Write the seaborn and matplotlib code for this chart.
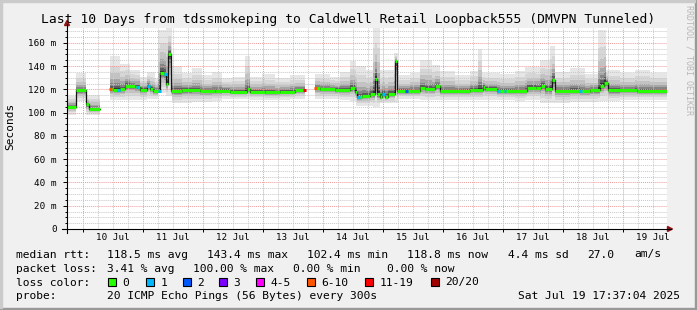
import numpy as np
import matplotlib
matplotlib.use("Agg")
import matplotlib.pyplot as plt
from matplotlib.patches import Rectangle, Polygon
from matplotlib.lines import Line2D
import seaborn as sns

W, H = 697, 310
MONO = "DejaVu Sans Mono"
plt.rcParams["font.family"] = [MONO, "DejaVu Sans"]

# ---------------- data (hours since Wed Jul 9 17:37:04 2025) ----------------
SPAN_H = 240.0
MIDNIGHT0 = 6.382          # Jul 10 00:00
day_labels = ["10 Jul", "11 Jul", "12 Jul", "13 Jul", "14 Jul",
              "15 Jul", "16 Jul", "17 Jul", "18 Jul", "19 Jul"]

med_t = [0.0, 3.6, 7.6, 8.8, 13.2, 17.2, 18.4, 21.2, 23.2, 27.2, 29.2, 32.0, 33.2,
         34.4, 37.2, 38.8, 39.6, 40.4, 41.6, 46.0, 53.2, 59.2, 65.2, 72.0, 73.2,
         79.2, 85.2, 91.2, 95.2, 99.2, 101.2, 107.2, 113.2, 115.2, 116.0, 118.0,
         121.2, 123.2, 124.0, 125.2, 126.0, 127.2, 128.4, 131.2, 132.0, 141.2,
         143.2, 147.2, 149.2, 161.2, 166.4, 167.2, 172.0, 184.0, 187.6, 189.6,
         191.2, 194.0, 195.2, 205.2, 209.2, 213.2, 214.8, 216.4, 228.0]
med_v = [105, 119, 107, 103, np.nan, 120, 119.5, 120, 123, 122, 119.5, 123, 120,
         118.5, 134, 133, 125, 150, 118.5, 119.4, 118.5, 118.8, 118, 120, 118,
         117.5, 118, 119, np.nan, 121, 120, 119.5, 121, 118, 113, 114,
         116, 129, 116, 113, 116, 113.5, 116, 144, 118.5, 121,
         120, 123, 118.5, 119.5, 122, 120.5, 118.5, 121.4, 121, 123,
         120, 128, 118.8, 118.5, 119, 123, 125.7, 119, 118.6]

smoke_t = [0.0, 3.6, 7.6, 13.2, 17.2, 21.2, 25.2, 29.2, 32.0, 35.2, 36.4, 39.6, 42.0,
           46.0, 50.0, 54.0, 58.0, 62.0, 66.0, 71.2, 73.2, 78.0, 83.2, 89.2, 95.2,
           99.2, 105.2, 109.2, 113.2, 115.6, 119.6, 122.4, 125.2, 130.8, 132.4,
           137.2, 141.2, 146.0, 149.2, 155.2, 161.2, 164.4, 166.0, 173.2, 179.2,
           183.2, 189.2, 193.2, 195.2, 201.2, 207.2, 212.4, 215.6, 221.2, 227.2, 233.2]
smoke_hi = [114, 134, 115, np.nan, 149, 142, 137, 131, 135, 130, 171, 173, 140,
            134, 138, 132, 135, 130, 131, 149, 131, 133, 130, 132, np.nan,
            133, 131, 135, 144, 140, 137, 173, 137, 151, 132,
            134, 145, 141, 136, 132, 136, 155, 134, 133, 136,
            139, 145, 157, 135, 138, 133, 171, 137, 134, 137, 134]
smoke_lo = [98, 110, 98, np.nan, 111, 111, 111, 111, 112, 112, 117, 114, 108,
            108, 109, 109, 110, 112, 112, 112, 111, 111, 111, 112, np.nan,
            112, 112, 111, 110, 106, 106, 105, 108, 108, 112,
            112, 111, 111, 111, 111, 111, 111, 111, 111, 110,
            111, 108, 108, 108, 109, 109, 110, 110, 111, 111, 111]

loss_t = [17.2, 20.4, 28.0, 32.4, 36.8, 39.2, 95.0, 99.2, 116.4, 126.4, 135.6,
          172.4, 175.2, 205.2]
loss_n = [7, 1, 1, 1, 1, 1, 12, 7, 1, 1, 2, 1, 1, 1]

loss_bins = ["0", "1", "2", "3", "4-5", "6-10", "11-19", "20/20"]
loss_colors = ["#26ff00", "#00b8ff", "#0059ff", "#7e00ff", "#ff00ff",
               "#ff5500", "#ff0000", "#a10000"]

title = "Last 10 Days from tdssmokeping to Caldwell Retail Loopback555 (DMVPN Tunneled)"
rtt_line = ["median rtt:", "118.5 ms avg", "143.4 ms max", "102.4 ms min",
            "118.8 ms now", "4.4 ms sd", "27.0", "am/s"]
loss_line = ["packet loss:", "3.41 % avg", "100.00 % max", "0.00 % min", "0.00 % now"]
probe_text = "20 ICMP Echo Pings (56 Bytes) every 300s"
stamp_text = "Sat Jul 19 17:37:04 2025"

# ---------------- helpers ----------------
med_t = np.array(med_t); med_v = np.array(med_v, float)
smoke_t = np.array(smoke_t); smoke_hi = np.array(smoke_hi, float); smoke_lo = np.array(smoke_lo, float)
assert len(med_t) == len(med_v) and len(smoke_t) == len(smoke_hi) == len(smoke_lo)


def step_at(t_arr, v_arr, x):
    idx = np.searchsorted(t_arr, x, side="right") - 1
    return v_arr[idx]


def runs(mask):
    out, i, n = [], 0, len(mask)
    while i < n:
        if mask[i]:
            j = i
            while j + 1 < n and mask[j + 1]:
                j += 1
            out.append((i, j))
            i = j + 1
        else:
            i += 1
    return out


def loss_color(n):
    if n == 0: return loss_colors[0]
    if n <= 3: return loss_colors[n]
    if n <= 5: return loss_colors[4]
    if n <= 10: return loss_colors[5]
    if n <= 19: return loss_colors[6]
    return loss_colors[7]


def fx(x): return x / W
def fy(y): return 1 - y / H


# ---------------- figure ----------------
fig = plt.figure(figsize=(W / 100, H / 100), dpi=100)
fig.patch.set_facecolor("#F0F0F0")
# 3D-ish border
fig.patches.append(Rectangle((0, 0), 1, 2 / H, transform=fig.transFigure, color="#999999", zorder=0))
fig.patches.append(Rectangle((1 - 2 / W, 0), 2 / W, 1, transform=fig.transFigure, color="#999999", zorder=0))
fig.patches.append(Rectangle((0, 1 - 2 / H), 1 - 2 / W, 2 / H, transform=fig.transFigure, color="#CBCBCB", zorder=0))
fig.patches.append(Rectangle((0, 2 / H), 2 / W, 1, transform=fig.transFigure, color="#CBCBCB", zorder=0))

ax = fig.add_axes([fx(67), fy(229), 600 / W, (229 - 28) / H])
ax.set_facecolor("white")
ax.set_xlim(0, SPAN_H)
ax.set_ylim(0, 172.7)
for s in ax.spines.values():
    s.set_visible(False)

# smoke
grid = np.unique(np.concatenate([med_t, smoke_t]))
stops = np.append(grid[1:], SPAN_H)
mg = step_at(med_t, med_v, grid)
hg = step_at(smoke_t, smoke_hi, grid)
lg = step_at(smoke_t, smoke_lo, grid)
valid = ~np.isnan(mg) & ~np.isnan(hg)
layers = [(1.0, "#e6e6e6"), (0.7, "#d6d6d6"), (0.48, "#c2c2c2"), (0.32, "#a6a6a6"),
          (0.2, "#858585"), (0.11, "#5c5c5c"), (0.05, "#333333")]
for i, j in runs(valid):
    xs = np.append(grid[i:j + 1], stops[j])
    m = np.append(mg[i:j + 1], mg[j]); hi = np.append(hg[i:j + 1], hg[j]); lo = np.append(lg[i:j + 1], lg[j])
    for f, c in layers:
        ax.fill_between(xs, m - f * (m - lo), m + f * (hi - m), step="post",
                        color=c, lw=0, zorder=1)

# median: black connecting step line (seaborn) + green loss-colored segments
mstops = np.append(med_t[1:], SPAN_H)
mvalid = ~np.isnan(med_v)
for i, j in runs(mvalid):
    xs = np.append(med_t[i:j + 1], mstops[j])
    ys = np.append(med_v[i:j + 1], med_v[j])
    sns.lineplot(x=xs, y=ys, drawstyle="steps-post", color="#151515", linewidth=0.9,
                 ax=ax, estimator=None, sort=False, legend=False, zorder=3)
    ax.hlines(med_v[i:j + 1], med_t[i:j + 1], mstops[i:j + 1], color=loss_colors[0],
              lw=2.2, zorder=4)
for t, n in zip(loss_t, loss_n):
    v = step_at(med_t, med_v, t)
    ax.hlines(v, t - 0.6, t + 0.6, color=loss_color(n), lw=2.2, zorder=5)

# grid & ticks
majx = MIDNIGHT0 + 24 * np.arange(10)
minx = [m for m in np.arange(MIDNIGHT0 - 6, SPAN_H, 6) if np.min(np.abs(majx - m)) > 1 and m > 0.5]
ax.set_xticks(majx)
ax.set_xticklabels([])
ax.set_xticks(minx, minor=True)
ax.set_yticks(np.arange(0, 161, 20))
ax.set_yticklabels(["0"] + [f"{v} m" for v in range(20, 161, 20)], fontsize=6.7, family=MONO)
ax.set_yticks([v for v in np.arange(5, 172, 5) if v % 20], minor=True)
ax.set_axisbelow(False)
ax.grid(which="minor", color="#c8c8c8", ls=(0, (1, 1)), lw=0.7)
ax.grid(which="major", color="#f09a9a", ls=(0, (1, 1)), lw=0.7)
ax.tick_params(axis="x", which="major", length=2.5, width=0.7, color="black", direction="out")
ax.tick_params(axis="x", which="minor", length=0)
ax.tick_params(axis="y", which="major", length=3, width=0.7, color="black", direction="out", pad=4.5)
ax.tick_params(axis="y", which="minor", length=1.5, width=0.7, color="black", direction="out")

for k, lab in enumerate(day_labels):
    ax.text(MIDNIGHT0 + 12 + 24 * k, -(237.5 - 229) / 201, lab, transform=ax.get_xaxis_transform(),
            ha="center", va="center", fontsize=6.7, family=MONO)

# axis lines and arrows
fig.add_artist(Line2D([fx(62), fx(671)], [fy(229), fy(229)], color="black", lw=0.8))
fig.add_artist(Line2D([fx(67), fx(67)], [fy(233), fy(24)], color="black", lw=0.8))
fig.add_artist(Polygon([[fx(64.5), fy(25.5)], [fx(69.5), fy(25.5)], [fx(67), fy(20.5)]],
                       closed=True, transform=fig.transFigure, color="#8f1515"))
fig.add_artist(Polygon([[fx(667.5), fy(226.5)], [fx(667.5), fy(231.5)], [fx(672.5), fy(229)]],
                       closed=True, transform=fig.transFigure, color="#8f1515"))

# texts
fig.text(fx(348), fy(19), title, ha="center", va="center", fontsize=9.4, family=MONO)
fig.text(fx(10.5), fy(126.5), "Seconds", rotation=90, ha="center", va="center", fontsize=8, family=MONO)
fig.text(fx(689), fy(5), "RRDTOOL / TOBI OETIKER", rotation=270, ha="center", va="top",
         fontsize=6, family=MONO, color="#b8b8b8")

LS = 8.1
for s, x in zip(rtt_line, [16, 107, 207, 307, 407, 508, 587, 634]):
    fig.text(fx(x), fy(254.5), s, ha="left", va="center", fontsize=LS, family=MONO)
for s, x in zip(loss_line, [16, 107, 193, 293, 387]):
    fig.text(fx(x), fy(268.5), s, ha="left", va="center", fontsize=LS, family=MONO)
fig.text(fx(16), fy(282.5), "loss color:", ha="left", va="center", fontsize=LS, family=MONO)
sq_x = [108, 146, 183, 219, 256, 307, 365, 431]
for lab, c, x in zip(loss_bins, loss_colors, sq_x):
    fig.patches.append(Rectangle((fx(x), fy(286)), 7.5 / W, 8 / H, transform=fig.transFigure,
                                 facecolor=c, edgecolor="black", lw=0.8))
    fig.text(fx(x + 14.5), fy(282.5), lab, ha="left", va="center", fontsize=LS, family=MONO)
fig.text(fx(16), fy(296), "probe:", ha="left", va="center", fontsize=LS, family=MONO)
fig.text(fx(107), fy(296), probe_text, ha="left", va="center", fontsize=LS, family=MONO)
fig.text(fx(680), fy(296), stamp_text, ha="right", va="center", fontsize=LS, family=MONO)

fig.savefig("out.png", dpi=100, facecolor=fig.get_facecolor())
